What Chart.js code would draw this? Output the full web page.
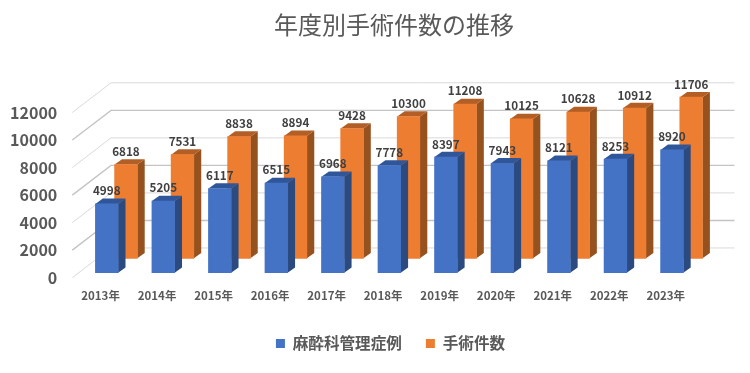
<!DOCTYPE html>
<html><head><meta charset="utf-8">
<script src="https://cdn.jsdelivr.net/npm/chart.js@4"></script>
<style>html,body{margin:0;padding:0;background:#fff}canvas{display:block}</style>
</head><body><canvas id="c" width="750" height="373"></canvas>
<script>
const categories = ['2013年','2014年','2015年','2016年','2017年','2018年','2019年','2020年','2021年','2022年','2023年'];
const anesthesiaCases = [4998,5205,6117,6515,6968,7778,8397,7943,8121,8253,8920];
const surgeryCases = [6818,7531,8838,8894,9428,10300,11208,10125,10628,10912,11706];
const yTickValues = [0,2000,4000,6000,8000,10000,12000];
const FONT = '"Noto Sans CJK JP","Noto Sans",sans-serif';
const TEXT = '#595959';
const depth = {dx:7.4, dy:5.3};
const faces = [
  {side:'#2B4A80', top:'#30569A', shift:6.2},
  {side:'#95511E', top:'#B25E24', shift:25.4}
];
const plugin3d = {
  id:'plugin3d',
  afterLayout(chart){
    const l = chart.legend; l.left += 43.5; l.right += 43.5;
    if (l.adjustHitBoxes) l.adjustHitBoxes();
    const t = chart.titleBlock; t.left = 19; t.right = chart.width + 19;
  },
  afterDatasetsUpdate(chart){
    chart.data.datasets.forEach((d,i)=>{
      chart.getDatasetMeta(i).data.forEach(el=>{ el.x += faces[i].shift; });
    });
  },
  beforeDraw(chart){
    const ctx = chart.ctx, y = chart.scales.y, b = chart.scales.yBack, a = chart.chartArea;
    const backX = a.left + 38.7, endX = a.right + 40.5;
    ctx.save();
    y.ticks.forEach(tk=>{
      const thick = [2000,6000,10000].includes(tk.value);
      ctx.strokeStyle = thick ? '#C4C4C4' : '#D9D9D9';
      ctx.lineWidth = thick ? 1.4 : 1;
      ctx.beginPath();
      ctx.moveTo(a.left, y.getPixelForValue(tk.value));
      ctx.lineTo(backX, b.getPixelForValue(tk.value));
      ctx.lineTo(endX, b.getPixelForValue(tk.value));
      ctx.stroke();
    });
    ctx.restore();
  },
  beforeDatasetDraw(chart,args){
    const ctx = chart.ctx, f = faces[args.index];
    ctx.save();
    chart.getDatasetMeta(args.index).data.forEach(el=>{
      const L = el.x - el.width/2, R = el.x + el.width/2, T = el.y, B = el.base;
      ctx.fillStyle = f.side;
      ctx.beginPath();
      ctx.moveTo(R,T); ctx.lineTo(R+depth.dx,T-depth.dy); ctx.lineTo(R+depth.dx,B-depth.dy); ctx.lineTo(R,B);
      ctx.closePath(); ctx.fill();
      ctx.fillStyle = f.top;
      ctx.beginPath();
      ctx.moveTo(L,T); ctx.lineTo(L+depth.dx,T-depth.dy); ctx.lineTo(R+depth.dx,T-depth.dy); ctx.lineTo(R,T);
      ctx.closePath(); ctx.fill();
    });
    ctx.restore();
  },
  afterDatasetsDraw(chart){
    const ctx = chart.ctx;
    ctx.save();
    ctx.font = 'bold 11.7px ' + FONT;
    ctx.fillStyle = '#404040';
    ctx.textAlign = 'center';
    ctx.textBaseline = 'middle';
    chart.data.datasets.forEach((d,i)=>{
      chart.getDatasetMeta(i).data.forEach((el,j)=>{
        ctx.fillText(String(d.data[j]), el.x, el.y - 13);
      });
    });
    ctx.restore();
  }
};
const K = 0.0137;
const H = 194;
const range = H / K;
const hiddenY = zero => ({display:false, min:-(277.3-zero)/K, max:-(277.3-zero)/K + range});
new Chart(document.getElementById('c'),{
  type:'bar',
  data:{labels:categories,datasets:[
    {label:'麻酔科管理症例',data:anesthesiaCases,backgroundColor:'#4472C4',yAxisID:'yBlue'},
    {label:'手術件数',data:surgeryCases,backgroundColor:'#ED7D31',yAxisID:'yOrange'}
  ]},
  plugins:[plugin3d],
  options:{
    responsive:false,animation:false,events:[],
    layout:{padding:{left:0,right:56,top:0,bottom:11.7}},
    datasets:{bar:{grouped:false,barThickness:22.7,borderWidth:0,clip:false}},
    plugins:{
      title:{display:true,text:'年度別手術件数の推移',color:TEXT,font:{family:FONT,size:24,weight:'normal'},padding:{top:10,bottom:44}},
      legend:{position:'bottom',labels:{color:TEXT,boxWidth:9,boxHeight:9,padding:24,font:{family:FONT,size:15.6,weight:'bold'}}},
      tooltip:{enabled:false}
    },
    scales:{
      x:{grid:{display:false},border:{display:false},
        afterFit(s){s.height=34;},
        ticks:{color:TEXT,padding:3,maxRotation:0,autoSkip:false,font:{family:FONT,size:11.5,weight:'bold'}}},
      y:{position:'left',min:0,max:range,grid:{display:false},border:{display:false},
        afterFit(s){s.width=72.3;},
        afterBuildTicks(s){s.ticks = yTickValues.map(v=>({value:v}));},
        ticks:{callback:v=>String(v),padding:7,color:TEXT,font:{family:FONT,size:16,weight:'bold'}}},
      yBack:hiddenY(247.7),
      yBlue:hiddenY(272.3),
      yOrange:hiddenY(258)
    }
  }
});
</script></body></html>
